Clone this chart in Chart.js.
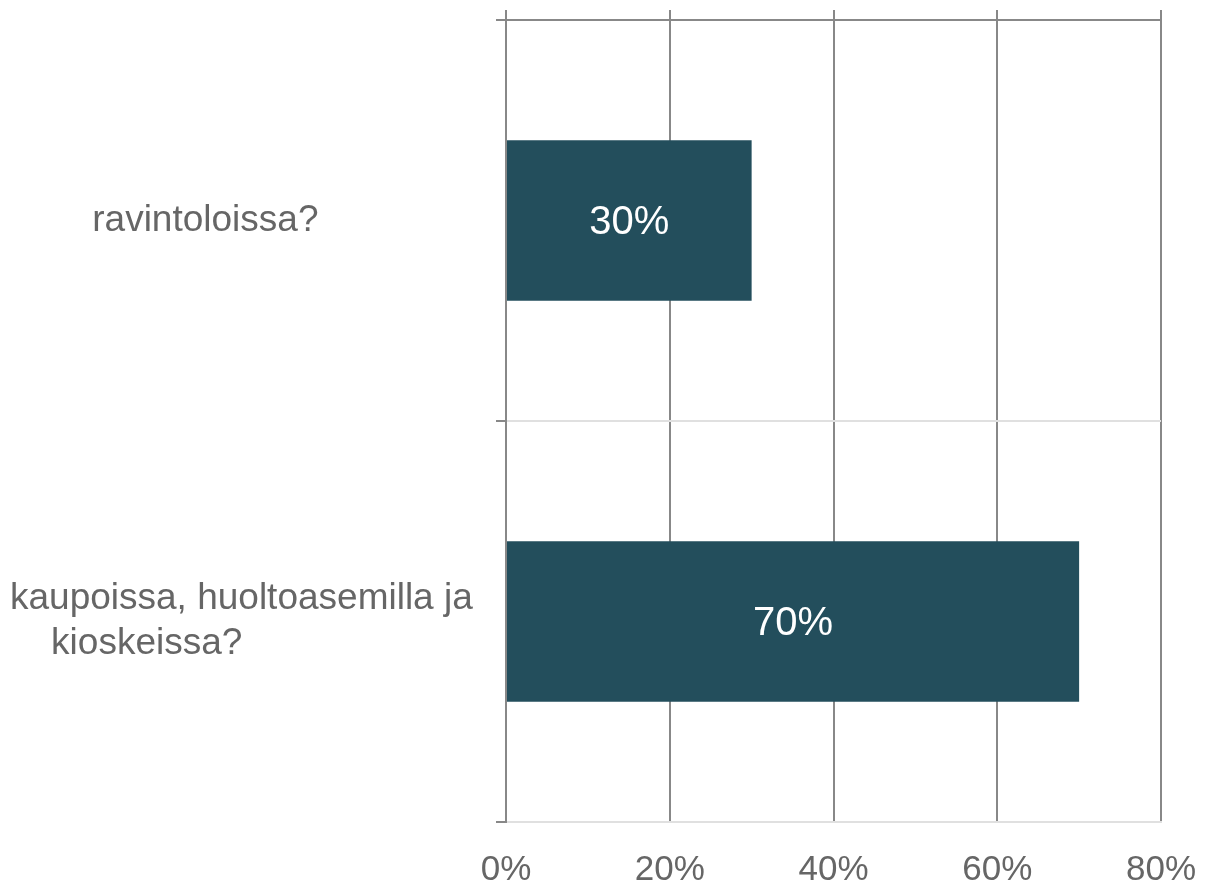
<!DOCTYPE html>
<html>
<head>
<meta charset="utf-8">
<script src="https://cdn.jsdelivr.net/npm/chart.js@4/dist/chart.umd.min.js"></script>
<style>
    html, body { margin: 0; padding: 0; background: #fff; }
    #wrap { width: 1205px; height: 884px; }
</style>
</head>
<body>
<div id="wrap"><canvas id="shareChart"></canvas></div>
<script>
// data
const categories = ["ravintoloissa?", ["kaupoissa, huoltoasemilla ja", "kioskeissa?"]];
const shares = [30, 70];
const xTicks = [0, 20, 40, 60, 80];

const barColor = "#234e5c";
const textGray = "#666666";
const darkLine = "#888888";
const lightLine = "#e0e0e0";
const fontFamily = "'Liberation Sans', Arial, sans-serif";

// white value labels inside the bars
const valueLabels = {
    id: "valueLabels",
    afterDatasetsDraw(chart) {
        const ctx = chart.ctx;
        const meta = chart.getDatasetMeta(0);
        ctx.save();
        ctx.fillStyle = "#ffffff";
        ctx.font = "40px " + fontFamily;
        ctx.textAlign = "center";
        ctx.textBaseline = "middle";
        meta.data.forEach((bar, i) => {
            const x = (bar.x + bar.base) / 2;
            ctx.fillText(shares[i] + "%", x, bar.y + 2);
        });
        ctx.restore();
    }
};

document.addEventListener("DOMContentLoaded", function () {
    const ctx = document.getElementById("shareChart").getContext("2d");

    new Chart(ctx, {
        type: "bar",
        data: {
            labels: categories,
            datasets: [{
                data: shares,
                backgroundColor: barColor,
                borderWidth: 0,
                barPercentage: 0.4,
                categoryPercentage: 1
            }]
        },
        options: {
            indexAxis: "y",
            responsive: true,
            maintainAspectRatio: false,
            animation: false,
            layout: { padding: { top: 10, right: 44, left: 10, bottom: 0 } },
            plugins: {
                legend: { display: false },
                tooltip: { enabled: false }
            },
            scales: {
                x: {
                    min: 0,
                    max: 80,
                    afterBuildTicks: scale => { scale.ticks = xTicks.map(v => ({ value: v })); },
                    afterFit: scale => {
                        scale.height = 62;
                        scale.paddingLeft = 0;
                        scale.paddingRight = 0;
                    },
                    grid: { color: darkLine, lineWidth: 2, drawTicks: false },
                    border: { color: lightLine, width: 2 },
                    ticks: {
                        padding: 27,
                        color: textGray,
                        font: { family: fontFamily, size: 35 },
                        callback: v => v + "%"
                    }
                },
                x2: {
                    position: "top",
                    min: 0,
                    max: 80,
                    afterBuildTicks: scale => { scale.ticks = xTicks.map(v => ({ value: v })); },
                    afterFit: scale => {
                        scale.height = 10;
                        scale.paddingLeft = 0;
                        scale.paddingRight = 0;
                    },
                    grid: { drawOnChartArea: false, color: darkLine, lineWidth: 2, tickLength: 10 },
                    border: { color: darkLine, width: 2 },
                    ticks: { display: false }
                },
                y: {
                    afterFit: scale => {
                        scale.width = 496;
                        scale.paddingTop = 0;
                        scale.paddingBottom = 0;
                    },
                    grid: {
                        offset: true,
                        lineWidth: 2,
                        tickLength: 10,
                        tickColor: darkLine,
                        color: c => c.index === 0 ? darkLine : lightLine
                    },
                    border: { color: darkLine, width: 2 },
                    ticks: {
                        crossAlign: "far",
                        color: textGray,
                        font: { family: fontFamily, size: 37, lineHeight: 1.22 },
                        // indent the lines a little, as in the original layout
                        callback: function (value) {
                            const label = this.getLabelForValue(value);
                            if (Array.isArray(label)) {
                                return [label[0], "    " + label[1]];
                            }
                            return "        " + label;
                        }
                    }
                }
            }
        },
        plugins: [valueLabels]
    });
});
</script>
</body>
</html>
